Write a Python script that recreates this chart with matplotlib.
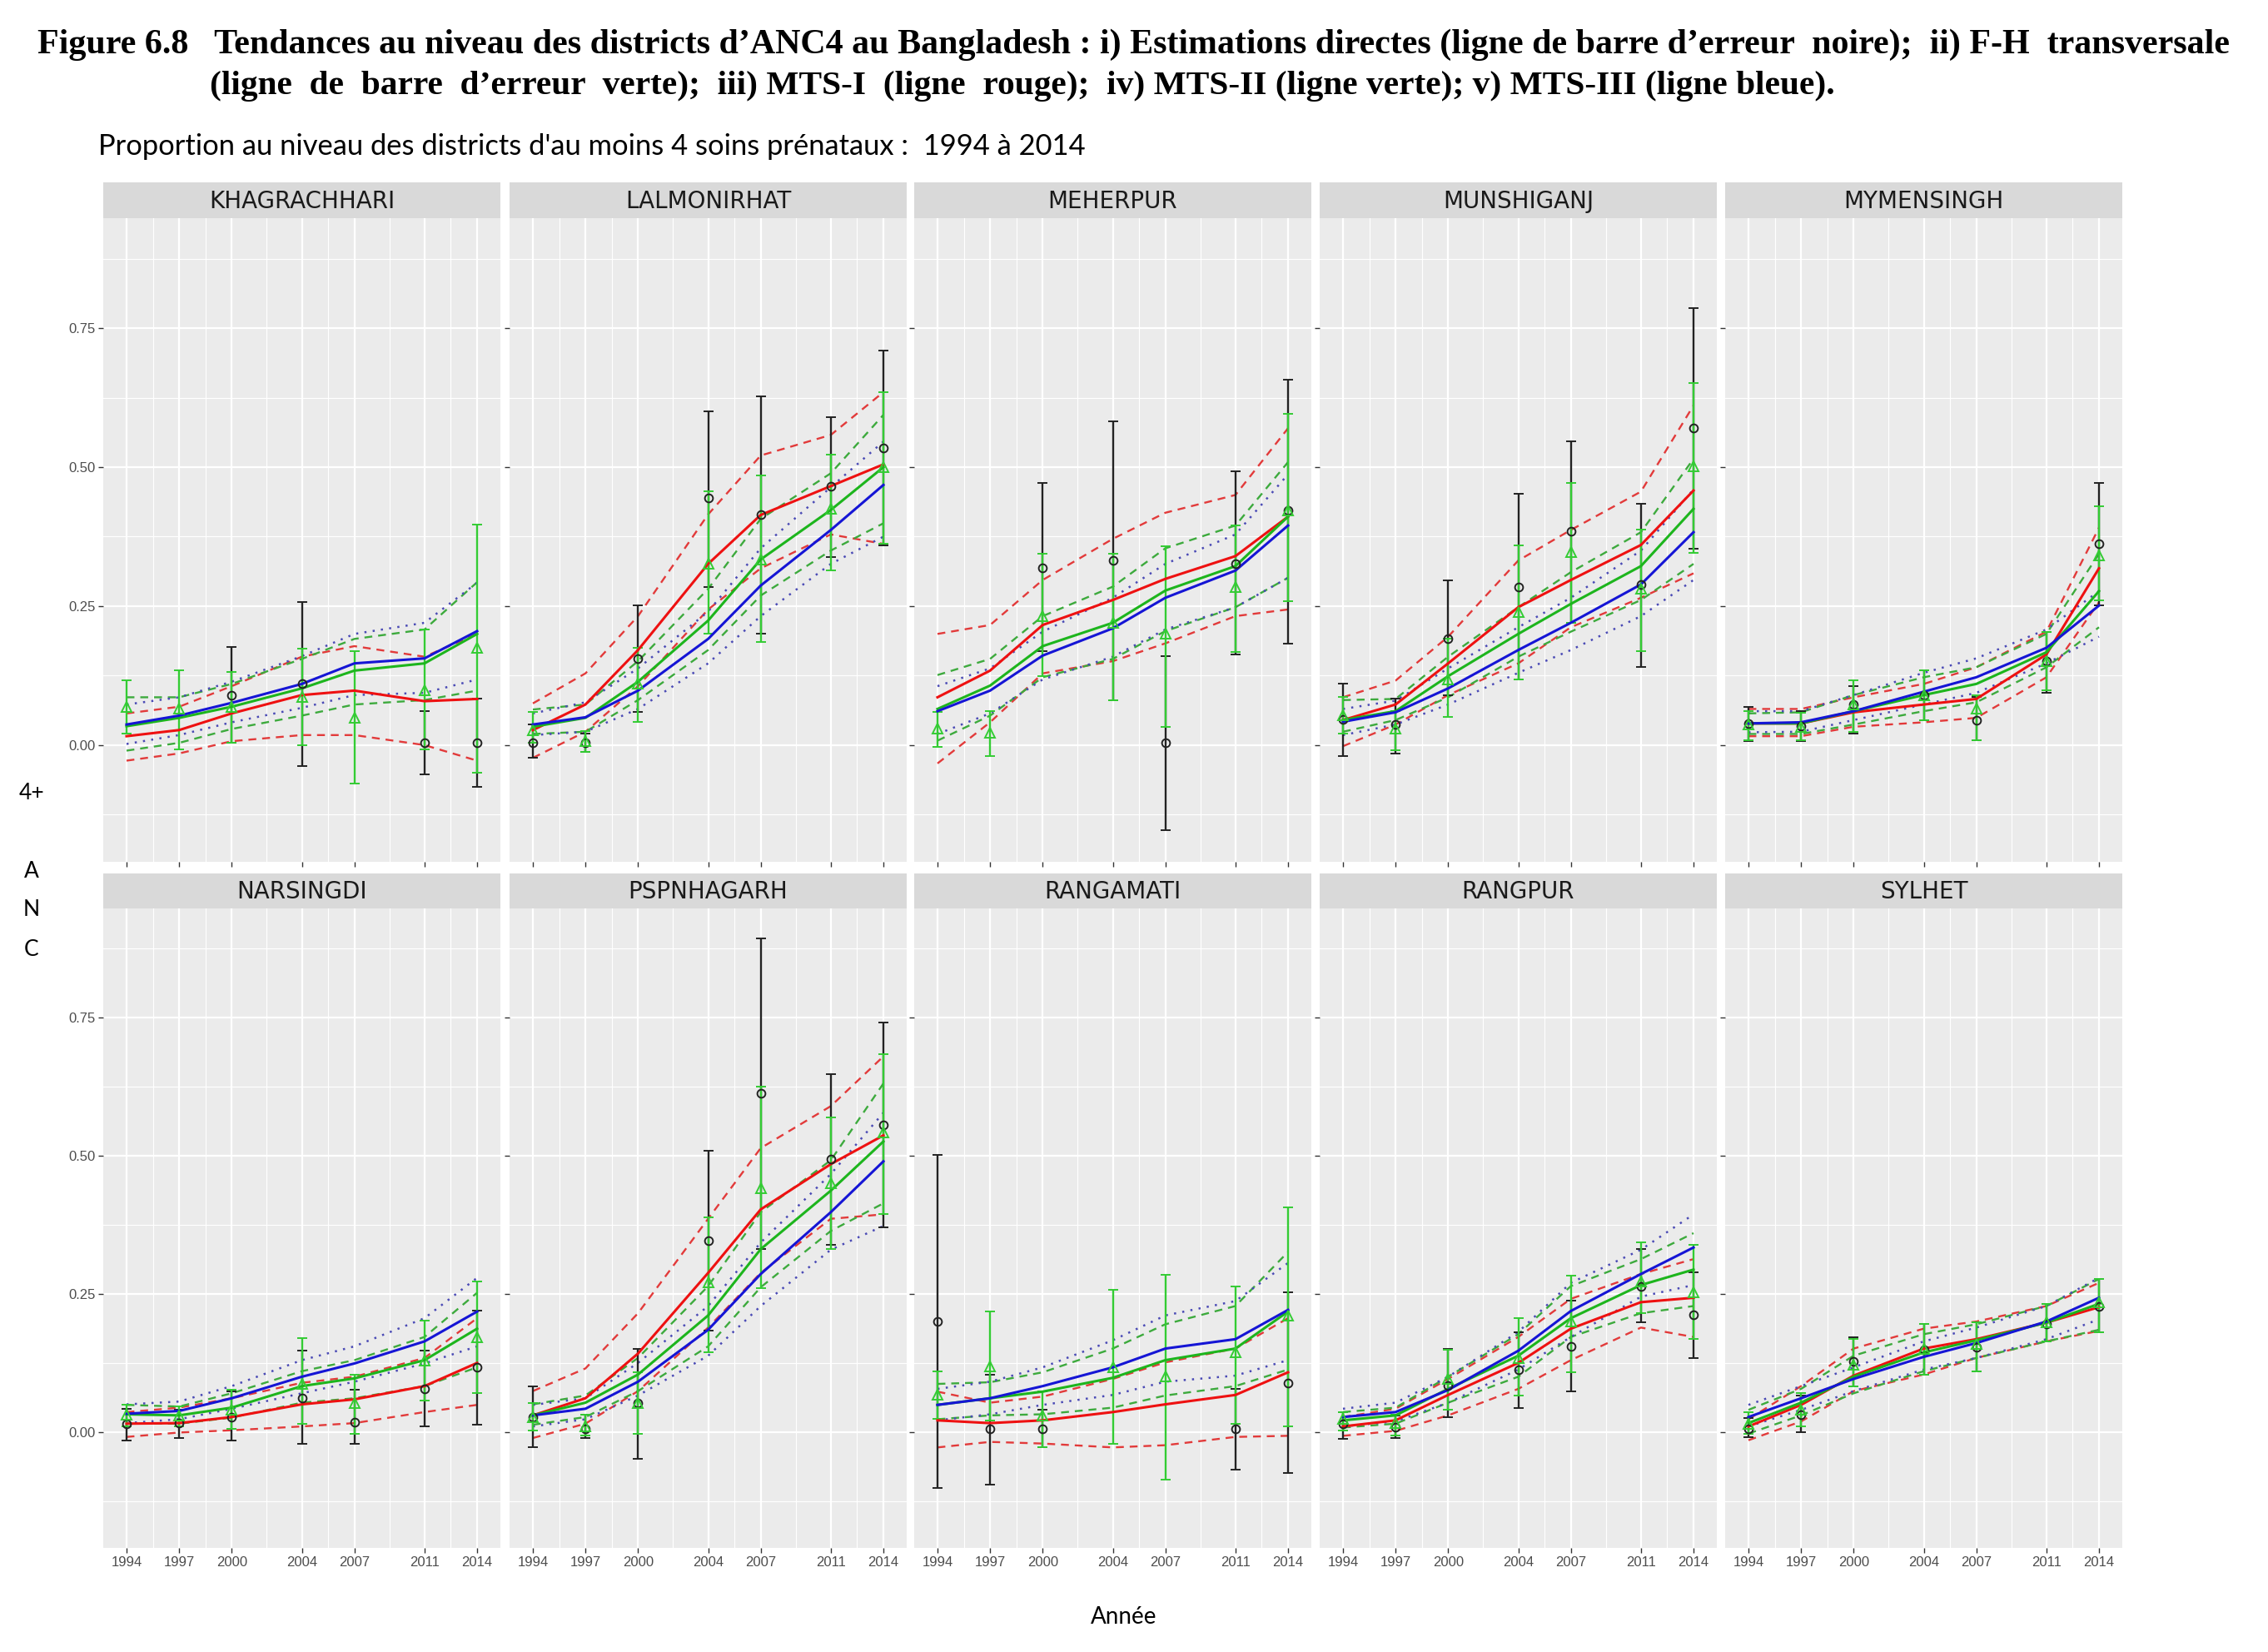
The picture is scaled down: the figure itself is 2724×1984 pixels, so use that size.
import numpy as np
import matplotlib
matplotlib.use('Agg')
import matplotlib.pyplot as plt

nan = np.nan
districts = ['KHAGRACHHARI', 'LALMONIRHAT', 'MEHERPUR', 'MUNSHIGANJ', 'MYMENSINGH',
             'NARSINGDI', 'PSPNHAGARH', 'RANGAMATI', 'RANGPUR', 'SYLHET']
years = [1994, 1997, 2000, 2004, 2007, 2011, 2014]
year_labels = ['1994', '1997', '2000', '2004', '2007', '2011', '2014']

# estimations directes (cercles noirs + barres d'erreur noires)
direct_est = [
    [nan, nan, 0.090, 0.110, nan, 0.004, 0.004],
    [0.004, 0.004, 0.156, 0.444, 0.414, 0.466, 0.535],
    [nan, nan, 0.319, 0.332, 0.004, 0.327, 0.422],
    [0.046, 0.037, 0.191, 0.285, 0.384, 0.289, 0.570],
    [0.039, 0.034, 0.073, 0.090, 0.045, 0.151, 0.362],
    [0.015, 0.016, 0.027, 0.061, 0.017, 0.078, 0.117],
    [0.027, 0.006, 0.053, 0.347, 0.613, 0.494, 0.556],
    [0.200, 0.006, 0.006, nan, nan, 0.006, 0.089],
    [0.015, 0.008, 0.084, 0.113, 0.155, 0.264, 0.212],
    [0.006, 0.032, 0.127, 0.149, 0.153, 0.195, 0.228],
]
direct_lo = [
    [nan, nan, 0.004, -0.037, nan, -0.053, -0.075],
    [-0.022, -0.012, 0.059, 0.285, 0.201, 0.338, 0.360],
    [nan, nan, 0.169, 0.080, -0.153, 0.163, 0.183],
    [-0.019, -0.015, 0.090, 0.118, 0.220, 0.140, 0.354],
    [0.007, 0.007, 0.020, 0.045, 0.008, 0.094, 0.252],
    [-0.015, -0.011, -0.015, -0.021, -0.021, 0.010, 0.013],
    [-0.028, -0.011, -0.049, 0.183, 0.332, 0.339, 0.371],
    [-0.101, -0.095, -0.028, nan, nan, -0.069, -0.075],
    [-0.013, -0.011, 0.027, 0.044, 0.073, 0.198, 0.134],
    [-0.010, 0.000, 0.083, 0.104, 0.110, 0.164, 0.181],
]
direct_hi = [
    [nan, nan, 0.177, 0.258, nan, 0.061, 0.083],
    [0.037, 0.020, 0.252, 0.600, 0.627, 0.590, 0.710],
    [nan, nan, 0.471, 0.582, 0.160, 0.493, 0.658],
    [0.110, 0.083, 0.297, 0.452, 0.546, 0.434, 0.786],
    [0.069, 0.061, 0.106, 0.134, 0.086, 0.204, 0.471],
    [0.042, 0.040, 0.074, 0.147, 0.076, 0.147, 0.219],
    [0.083, 0.032, 0.151, 0.509, 0.893, 0.648, 0.741],
    [0.501, 0.104, 0.040, nan, nan, 0.078, 0.253],
    [0.036, 0.030, 0.151, 0.181, 0.238, 0.331, 0.289],
    [0.025, 0.066, 0.172, 0.195, 0.198, 0.232, 0.277],
]

# F-H transversale (triangles verts + barres d'erreur vertes)
fh_est = [
    [0.069, 0.065, 0.069, 0.087, 0.049, 0.099, 0.175],
    [0.027, 0.007, 0.110, 0.326, 0.334, 0.425, 0.500],
    [0.029, 0.022, 0.232, 0.220, 0.200, 0.285, 0.422],
    [0.053, 0.029, 0.118, 0.240, 0.348, 0.281, 0.501],
    [0.037, 0.033, 0.073, 0.090, 0.065, 0.151, 0.342],
    [0.032, 0.030, 0.040, 0.087, 0.053, 0.130, 0.172],
    [0.027, 0.010, 0.053, 0.271, 0.442, 0.450, 0.542],
    [0.067, 0.119, 0.030, 0.117, 0.100, 0.144, 0.211],
    [0.023, 0.016, 0.096, 0.134, 0.200, 0.272, 0.253],
    [0.015, 0.040, 0.121, 0.151, 0.160, 0.198, 0.235],
]
fh_lo = [
    [0.020, -0.008, 0.004, 0.000, -0.069, -0.008, -0.049],
    [0.004, -0.012, 0.042, 0.200, 0.185, 0.314, 0.362],
    [-0.004, -0.020, 0.124, 0.080, 0.033, 0.167, 0.259],
    [0.020, -0.010, 0.050, 0.118, 0.220, 0.169, 0.346],
    [0.008, 0.008, 0.024, 0.045, 0.008, 0.098, 0.261],
    [0.010, 0.010, 0.006, 0.015, -0.003, 0.057, 0.070],
    [0.002, -0.007, -0.003, 0.144, 0.260, 0.332, 0.394],
    [0.023, 0.021, -0.028, -0.021, -0.086, 0.015, 0.010],
    [0.002, -0.006, 0.040, 0.066, 0.108, 0.215, 0.168],
    [-0.003, 0.010, 0.083, 0.104, 0.110, 0.164, 0.181],
]
fh_hi = [
    [0.116, 0.134, 0.132, 0.173, 0.169, 0.208, 0.397],
    [0.059, 0.025, 0.175, 0.456, 0.485, 0.523, 0.635],
    [0.059, 0.061, 0.344, 0.344, 0.358, 0.395, 0.596],
    [0.086, 0.061, 0.191, 0.360, 0.472, 0.387, 0.651],
    [0.061, 0.058, 0.116, 0.134, 0.090, 0.204, 0.430],
    [0.050, 0.046, 0.076, 0.170, 0.104, 0.202, 0.272],
    [0.053, 0.032, 0.108, 0.388, 0.625, 0.569, 0.684],
    [0.109, 0.218, 0.074, 0.258, 0.284, 0.264, 0.407],
    [0.036, 0.032, 0.149, 0.206, 0.283, 0.343, 0.339],
    [0.036, 0.070, 0.168, 0.195, 0.198, 0.232, 0.277],
]

# MTS-I (rouge)
mts1 = [
    [0.016, 0.027, 0.057, 0.090, 0.098, 0.079, 0.083],
    [0.027, 0.073, 0.171, 0.326, 0.414, 0.466, 0.505],
    [0.086, 0.134, 0.216, 0.261, 0.299, 0.340, 0.411],
    [0.045, 0.073, 0.147, 0.248, 0.297, 0.360, 0.458],
    [0.039, 0.039, 0.059, 0.073, 0.083, 0.163, 0.318],
    [0.015, 0.016, 0.027, 0.050, 0.059, 0.083, 0.125],
    [0.030, 0.061, 0.142, 0.288, 0.403, 0.485, 0.537],
    [0.021, 0.016, 0.021, 0.036, 0.050, 0.067, 0.108],
    [0.010, 0.021, 0.067, 0.125, 0.187, 0.235, 0.243],
    [0.010, 0.049, 0.102, 0.151, 0.168, 0.198, 0.226],
]
mts1_lo = [
    [-0.028, -0.015, 0.007, 0.018, 0.018, 0.000, -0.028],
    [-0.023, 0.024, 0.106, 0.244, 0.318, 0.379, 0.362],
    [-0.033, 0.041, 0.129, 0.151, 0.183, 0.232, 0.244],
    [-0.002, 0.037, 0.090, 0.147, 0.212, 0.265, 0.309],
    [0.016, 0.016, 0.033, 0.041, 0.049, 0.122, 0.257],
    [-0.009, -0.001, 0.003, 0.010, 0.016, 0.036, 0.049],
    [-0.011, 0.015, 0.074, 0.189, 0.288, 0.386, 0.394],
    [-0.028, -0.018, -0.021, -0.028, -0.024, -0.009, -0.007],
    [-0.007, 0.002, 0.030, 0.078, 0.130, 0.189, 0.172],
    [-0.015, 0.019, 0.074, 0.104, 0.134, 0.164, 0.183],
]
mts1_hi = [
    [0.057, 0.069, 0.106, 0.159, 0.178, 0.159, 0.200],
    [0.075, 0.129, 0.232, 0.415, 0.521, 0.558, 0.635],
    [0.200, 0.216, 0.297, 0.371, 0.418, 0.450, 0.570],
    [0.086, 0.116, 0.195, 0.332, 0.387, 0.456, 0.611],
    [0.065, 0.065, 0.086, 0.110, 0.140, 0.204, 0.391],
    [0.036, 0.044, 0.061, 0.089, 0.100, 0.134, 0.206],
    [0.074, 0.115, 0.215, 0.386, 0.514, 0.590, 0.680],
    [0.073, 0.053, 0.064, 0.096, 0.126, 0.151, 0.206],
    [0.027, 0.042, 0.096, 0.172, 0.241, 0.286, 0.313],
    [0.023, 0.083, 0.151, 0.187, 0.200, 0.228, 0.270],
]

# MTS-II (vert)
mts2 = [
    [0.034, 0.049, 0.069, 0.102, 0.134, 0.147, 0.200],
    [0.033, 0.049, 0.114, 0.224, 0.334, 0.423, 0.500],
    [0.065, 0.107, 0.178, 0.220, 0.278, 0.322, 0.411],
    [0.045, 0.061, 0.124, 0.200, 0.254, 0.322, 0.425],
    [0.039, 0.039, 0.061, 0.090, 0.110, 0.167, 0.277],
    [0.032, 0.030, 0.044, 0.083, 0.097, 0.130, 0.187],
    [0.030, 0.053, 0.104, 0.211, 0.331, 0.437, 0.526],
    [0.049, 0.061, 0.073, 0.098, 0.130, 0.151, 0.218],
    [0.021, 0.030, 0.078, 0.138, 0.206, 0.266, 0.294],
    [0.016, 0.053, 0.100, 0.144, 0.166, 0.198, 0.232],
]
mts2_lo = [
    [-0.010, 0.004, 0.029, 0.053, 0.073, 0.081, 0.098],
    [0.020, 0.024, 0.081, 0.171, 0.269, 0.350, 0.399],
    [0.008, 0.053, 0.122, 0.155, 0.205, 0.248, 0.301],
    [0.024, 0.045, 0.086, 0.159, 0.204, 0.261, 0.326],
    [0.020, 0.020, 0.037, 0.061, 0.077, 0.140, 0.212],
    [0.015, 0.015, 0.026, 0.053, 0.061, 0.083, 0.117],
    [0.013, 0.027, 0.074, 0.155, 0.262, 0.364, 0.414],
    [0.023, 0.030, 0.032, 0.044, 0.066, 0.083, 0.113],
    [0.008, 0.015, 0.053, 0.100, 0.172, 0.215, 0.228],
    [-0.003, 0.030, 0.070, 0.110, 0.134, 0.164, 0.185],
]
mts2_hi = [
    [0.086, 0.086, 0.110, 0.155, 0.191, 0.208, 0.293],
    [0.064, 0.073, 0.151, 0.281, 0.407, 0.489, 0.594],
    [0.126, 0.155, 0.232, 0.285, 0.354, 0.395, 0.509],
    [0.081, 0.083, 0.159, 0.248, 0.311, 0.383, 0.515],
    [0.057, 0.059, 0.090, 0.122, 0.140, 0.200, 0.344],
    [0.049, 0.046, 0.070, 0.110, 0.130, 0.172, 0.252],
    [0.050, 0.066, 0.134, 0.264, 0.398, 0.492, 0.631],
    [0.087, 0.090, 0.108, 0.151, 0.195, 0.228, 0.326],
    [0.036, 0.044, 0.100, 0.177, 0.264, 0.313, 0.360],
    [0.040, 0.078, 0.138, 0.177, 0.195, 0.228, 0.277],
]

# MTS-III (bleu)
mts3 = [
    [0.037, 0.053, 0.076, 0.110, 0.147, 0.156, 0.205],
    [0.037, 0.050, 0.098, 0.191, 0.287, 0.387, 0.468],
    [0.061, 0.098, 0.161, 0.210, 0.265, 0.314, 0.395],
    [0.042, 0.059, 0.102, 0.171, 0.220, 0.289, 0.383],
    [0.039, 0.041, 0.061, 0.096, 0.122, 0.175, 0.251],
    [0.033, 0.038, 0.061, 0.100, 0.124, 0.164, 0.218],
    [0.030, 0.042, 0.091, 0.185, 0.286, 0.398, 0.490],
    [0.049, 0.061, 0.083, 0.117, 0.151, 0.168, 0.221],
    [0.027, 0.036, 0.076, 0.147, 0.219, 0.286, 0.334],
    [0.027, 0.061, 0.096, 0.136, 0.161, 0.200, 0.243],
]
mts3_lo = [
    [0.002, 0.018, 0.041, 0.067, 0.090, 0.094, 0.118],
    [0.018, 0.024, 0.065, 0.147, 0.232, 0.326, 0.375],
    [0.020, 0.057, 0.118, 0.159, 0.208, 0.248, 0.301],
    [0.018, 0.037, 0.073, 0.130, 0.171, 0.232, 0.297],
    [0.023, 0.024, 0.045, 0.073, 0.094, 0.147, 0.195],
    [0.016, 0.023, 0.042, 0.070, 0.091, 0.124, 0.155],
    [0.010, 0.023, 0.066, 0.138, 0.228, 0.330, 0.373],
    [0.021, 0.032, 0.049, 0.067, 0.091, 0.102, 0.130],
    [0.010, 0.019, 0.053, 0.113, 0.172, 0.245, 0.266],
    [0.010, 0.040, 0.074, 0.113, 0.134, 0.168, 0.204],
]
mts3_hi = [
    [0.073, 0.086, 0.114, 0.160, 0.200, 0.220, 0.292],
    [0.057, 0.077, 0.138, 0.240, 0.354, 0.464, 0.546],
    [0.106, 0.138, 0.204, 0.265, 0.326, 0.379, 0.487],
    [0.065, 0.080, 0.138, 0.212, 0.265, 0.350, 0.460],
    [0.061, 0.061, 0.090, 0.130, 0.156, 0.208, 0.277],
    [0.050, 0.055, 0.083, 0.130, 0.155, 0.206, 0.279],
    [0.049, 0.061, 0.125, 0.228, 0.343, 0.467, 0.578],
    [0.078, 0.091, 0.117, 0.166, 0.211, 0.237, 0.306],
    [0.042, 0.053, 0.100, 0.181, 0.270, 0.330, 0.394],
    [0.049, 0.083, 0.117, 0.164, 0.189, 0.228, 0.279],
]

title1 = ("Figure 6.8   Tendances au niveau des districts d\u2019ANC4 au Bangladesh : "
          "i) Estimations directes (ligne de barre d\u2019erreur  noire);  ii) F-H  transversale")
title2 = ("(ligne  de  barre  d\u2019erreur  verte);  iii) MTS-I  (ligne  rouge);  "
          "iv) MTS-II (ligne verte); v) MTS-III (ligne bleue).")
subtitle = "Proportion au niveau des districts d'au moins 4 soins pr\u00e9nataux :  1994 \u00e0 2014"

W, H = 2724.0, 1984.0
fig = plt.figure(figsize=(W / 100, H / 100), dpi=100)
fig.patch.set_facecolor('white')

col_x = [124, 612, 1098, 1585, 2072]
pw = 477
strip_top = [219, 1049]
ax_top = [262, 1091]
ax_bot = [1035, 1859]

RED, GREEN, BLUE = '#EE1111', '#1DB51D', '#1515D5'
RED_D, GREEN_D, BLUE_D = '#E23A3A', '#3DAA3D', '#4A4AB5'
GREEN_EB = '#33CC33'


def arr(a):
    return np.array(a, dtype=float)


for i, name in enumerate(districts):
    r, c = divmod(i, 5)
    x0 = col_x[c]
    ax = fig.add_axes([x0 / W, 1 - ax_bot[r] / H, pw / W, (ax_bot[r] - ax_top[r]) / H])
    st = fig.add_axes([x0 / W, 1 - ax_top[r] / H, pw / W, (ax_top[r] - strip_top[r]) / H])
    st.set_facecolor('#D9D9D9')
    st.set_xticks([])
    st.set_yticks([])
    for s in st.spines.values():
        s.set_visible(False)
    st.text(0.5, 0.47, name, ha='center', va='center', fontsize=20,
            fontfamily='DejaVu Sans', color='#1A1A1A', transform=st.transAxes)

    ax.set_facecolor('#EBEBEB')
    for s in ax.spines.values():
        s.set_visible(False)
    ax.set_xlim(1992.67, 2015.33)
    ax.set_ylim(-0.21, 0.948)
    ax.set_xticks(years)
    ax.set_xticks([1995.5, 1998.5, 2002, 2005.5, 2009, 2012.5], minor=True)
    ax.set_yticks([0, 0.25, 0.5, 0.75])
    ax.set_yticks([-0.125, 0.125, 0.375, 0.625, 0.875], minor=True)
    ax.grid(which='major', color='white', lw=1.6)
    ax.grid(which='minor', color='white', lw=0.8)
    ax.set_axisbelow(True)
    ax.tick_params(which='minor', length=0)
    ax.tick_params(which='major', length=4, width=1, color='#333333',
                   labelcolor='#4D4D4D', labelsize=12, pad=3)
    if c == 0:
        ax.set_yticklabels(['0.00', '0.25', '0.50', '0.75'], fontfamily='Liberation Sans')
    else:
        ax.tick_params(axis='y', labelleft=False)
    if r == 1:
        ax.set_xticklabels(year_labels, fontfamily='Liberation Sans')
    else:
        ax.tick_params(axis='x', labelbottom=False)

    x = np.array(years, dtype=float)
    # intervalles des modèles
    ax.plot(x, mts1_lo[i], color=RED_D, lw=1.7, ls=(0, (4, 3)))
    ax.plot(x, mts1_hi[i], color=RED_D, lw=1.7, ls=(0, (4, 3)))
    ax.plot(x, mts2_lo[i], color=GREEN_D, lw=1.7, ls=(0, (4, 3)))
    ax.plot(x, mts2_hi[i], color=GREEN_D, lw=1.7, ls=(0, (4, 3)))
    ax.plot(x, mts3_lo[i], color=BLUE_D, lw=1.8, ls=(0, (1, 3)))
    ax.plot(x, mts3_hi[i], color=BLUE_D, lw=1.8, ls=(0, (1, 3)))

    # estimations directes
    de, dl, dh = arr(direct_est[i]), arr(direct_lo[i]), arr(direct_hi[i])
    ax.errorbar(x, de, yerr=[de - dl, dh - de], fmt='o', ms=7, mfc='none', mec='#222222',
                mew=1.4, ecolor='#222222', elinewidth=1.7, capsize=4.5, capthick=1.7)
    # F-H
    fe, fl, fhh = arr(fh_est[i]), arr(fh_lo[i]), arr(fh_hi[i])
    ax.errorbar(x, fe, yerr=[fe - fl, fhh - fe], fmt='^', ms=8, mfc='none', mec=GREEN_EB,
                mew=1.4, ecolor=GREEN_EB, elinewidth=1.7, capsize=4.5, capthick=1.7)

    ax.plot(x, mts1[i], color=RED, lw=2.2)
    ax.plot(x, mts2[i], color=GREEN, lw=2.2)
    ax.plot(x, mts3[i], color=BLUE, lw=2.2)


renderer = fig.canvas.get_renderer()


def fit_text(x, y, s, target_w, size, **kw):
    t = fig.text(x / W, 1 - y / H, s, fontsize=size, va='center', ha='left', **kw)
    w = t.get_window_extent(renderer).width
    t.set_fontsize(size * target_w / w)
    return t


fit_text(45, 54, title1, 2639, 28, fontfamily='Liberation Serif', fontweight='bold')
fit_text(252, 104, title2, 1951, 28, fontfamily='Liberation Serif', fontweight='bold')
fit_text(118, 176, subtitle, 1188, 20, fontfamily='Lato')

for lab, yy in [('4+', 952), ('A', 1047), ('N', 1092), ('C', 1141)]:
    fig.text(38 / W, 1 - yy / H, lab, ha='center', va='center', fontsize=19, fontfamily='Lato')
fig.text(1350 / W, 1 - 1942 / H, 'Ann\u00e9e', ha='center', va='center', fontsize=20,
         fontfamily='Lato')

fig.savefig('out.png', dpi=100)
